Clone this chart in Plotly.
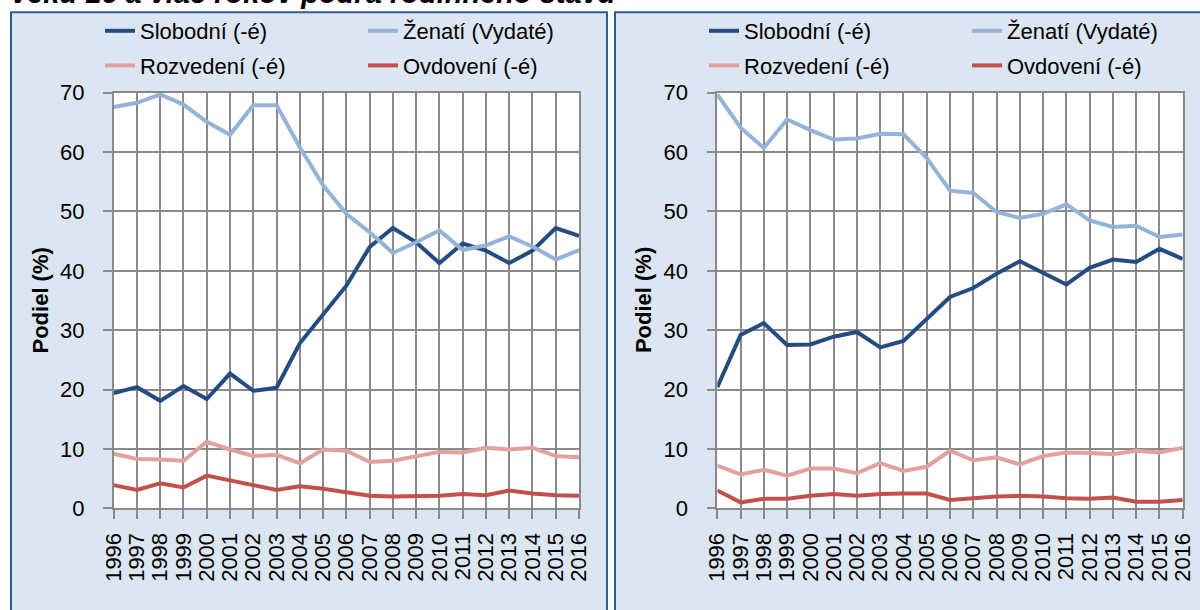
import plotly.graph_objects as go

# ---------------- data ----------------
years = list(range(1996, 2017))
year_labels = [str(y) for y in years]
y_tick_vals = [0, 10, 20, 30, 40, 50, 60, 70]

series_names = ["Slobodní (-é)", "Ženatí (Vydaté)", "Rozvedení (-é)", "Ovdovení (-é)"]
series_colors = ["#254C80", "#95B3D7", "#E3A09E", "#C4504D"]

left_slobodni = [19.4, 20.4, 18.1, 20.6, 18.4, 22.7, 19.8, 20.3, 27.8, 32.7, 37.5,
                 44.0, 47.2, 44.8, 41.3, 44.6, 43.4, 41.3, 43.4, 47.2, 45.9]
left_zenati = [67.6, 68.3, 69.7, 68.0, 65.1, 62.9, 67.9, 67.9, 60.8, 54.4, 49.6,
               46.5, 43.0, 44.8, 46.8, 43.5, 44.3, 45.8, 44.1, 41.9, 43.5]
left_rozvedeni = [9.2, 8.3, 8.2, 8.0, 11.2, 9.9, 8.8, 9.0, 7.6, 9.9, 9.7,
                  7.8, 8.0, 8.7, 9.5, 9.4, 10.2, 9.9, 10.2, 8.8, 8.6]
left_ovdoveni = [3.9, 3.1, 4.2, 3.5, 5.5, 4.7, 3.9, 3.1, 3.7, 3.3, 2.7,
                 2.1, 2.0, 2.0, 2.1, 2.4, 2.2, 3.0, 2.5, 2.2, 2.1]

right_slobodni = [20.4, 29.2, 31.2, 27.5, 27.6, 28.9, 29.7, 27.1, 28.2, 31.8, 35.6,
                  37.1, 39.5, 41.6, 39.6, 37.7, 40.5, 41.9, 41.5, 43.7, 42.0]
right_zenati = [69.7, 64.1, 60.7, 65.5, 63.7, 62.1, 62.3, 63.1, 63.0, 59.0, 53.5,
                53.1, 49.9, 48.9, 49.6, 51.2, 48.5, 47.4, 47.6, 45.7, 46.1]
right_rozvedeni = [7.2, 5.7, 6.5, 5.5, 6.7, 6.7, 5.9, 7.6, 6.3, 7.0, 9.7,
                   8.1, 8.6, 7.4, 8.8, 9.4, 9.3, 9.1, 9.7, 9.4, 10.2]
right_ovdoveni = [3.0, 1.0, 1.6, 1.6, 2.1, 2.4, 2.1, 2.4, 2.5, 2.5, 1.4,
                  1.7, 2.0, 2.1, 2.0, 1.7, 1.6, 1.8, 1.1, 1.1, 1.4]

title_text = "veku 16 a viac rokov podľa rodinného stavu"
y_title = "Podiel (%)"

# ---------------- layout helpers ----------------
W, H = 1200, 610
FONT = "Liberation Sans, Arial, sans-serif"
GRID = "#8A8A8A"
PANEL = "#DCE6F2"
BORDER = "#2F5C94"


def px(x):
    return x / W


def py(y):
    return 1 - y / H


fig = go.Figure()

panels = [
    dict(key="L", xa="x", ya="y", legends=("legend", "legend2"),
         data=[left_slobodni, left_zenati, left_rozvedeni, left_ovdoveni]),
    dict(key="R", xa="x2", ya="y2", legends=("legend3", "legend4"),
         data=[right_slobodni, right_zenati, right_rozvedeni, right_ovdoveni]),
]

for p in panels:
    for i, (name, color, vals) in enumerate(zip(series_names, series_colors, p["data"])):
        fig.add_trace(go.Scatter(
            x=years, y=vals, name=name, mode="lines",
            line=dict(color=color, width=4),
            xaxis=p["xa"], yaxis=p["ya"],
            legend=p["legends"][0] if i in (0, 2) else p["legends"][1],
            legendgroup=p["key"] + str(i),
            hoverinfo="skip",
        ))

xdomains = [[px(113.7), px(579.0)], [px(717.3), px(1182.7)]]
ydomain = [py(508.3), py(92.7)]

axis_common = dict(
    showgrid=True, gridcolor=GRID, gridwidth=1.6,
    showline=True, linecolor=GRID, linewidth=1.6, mirror=True,
    ticks="outside", ticklen=9, tickwidth=1.6, tickcolor=GRID,
    zeroline=False, automargin=False,
)

layout = dict(
    width=W, height=H,
    margin=dict(l=0, r=0, t=0, b=0, pad=0, autoexpand=False),
    paper_bgcolor="white", plot_bgcolor="white",
    font=dict(family=FONT, color="black"),
    showlegend=True,
)

for k, (xd, sfx) in enumerate(zip(xdomains, ["", "2"])):
    layout["xaxis" + sfx] = dict(
        axis_common, domain=xd, range=[1996, 2016],
        tickmode="array", tickvals=years, ticktext=year_labels,
        tickangle=-90, tickfont=dict(size=22, family=FONT, color="black"),
        anchor="y" + sfx, ticklabelstandoff=5,
    )
    layout["yaxis" + sfx] = dict(
        axis_common, domain=ydomain, range=[0, 70],
        tickmode="array", tickvals=y_tick_vals,
        tickfont=dict(size=22, family=FONT, color="black"),
        anchor="x" + sfx, ticklabelstandoff=14,
    )

legend_common = dict(
    orientation="v", bgcolor="rgba(0,0,0,0)", borderwidth=0,
    font=dict(size=22, family=FONT, color="black"),
    xanchor="left", yanchor="top", tracegroupgap=3,
)
layout["legend"] = dict(legend_common, x=px(100), y=py(10))
layout["legend2"] = dict(legend_common, x=px(363), y=py(10))
layout["legend3"] = dict(legend_common, x=px(704), y=py(10))
layout["legend4"] = dict(legend_common, x=px(967), y=py(10))

fig.update_layout(**layout)

# panel backgrounds + white plot areas
shapes = [
    dict(type="rect", xref="paper", yref="paper", x0=px(11), x1=px(607),
         y0=-0.2, y1=py(12.3), fillcolor=PANEL, line=dict(color=BORDER, width=2),
         layer="below"),
    dict(type="rect", xref="paper", yref="paper", x0=px(615), x1=1.2,
         y0=-0.2, y1=py(12.3), fillcolor=PANEL, line=dict(color=BORDER, width=2),
         layer="below"),
]
for sfx in ["", "2"]:
    shapes.append(dict(type="rect", xref="x" + sfx + " domain", yref="y" + sfx + " domain",
                       x0=0, x1=1, y0=0, y1=1, fillcolor="white",
                       line=dict(width=0), layer="below"))
fig.update_layout(shapes=shapes)

annotations = [
    dict(text="<b><i>" + title_text + "</i></b>", xref="paper", yref="paper",
         x=px(9), y=py(-7), xanchor="left", yanchor="middle", showarrow=False,
         font=dict(size=29, family=FONT, color="black")),
    dict(text="<b>" + y_title + "</b>", xref="paper", yref="paper",
         x=px(40), y=py(300.5), xanchor="center", yanchor="middle", textangle=-90,
         showarrow=False, font=dict(size=22, family=FONT, color="black")),
    dict(text="<b>" + y_title + "</b>", xref="paper", yref="paper",
         x=px(643.6), y=py(300.5), xanchor="center", yanchor="middle", textangle=-90,
         showarrow=False, font=dict(size=22, family=FONT, color="black")),
]
fig.update_layout(annotations=annotations)

fig.write_html("out.html", config={"displayModeBar": False},
               post_script="document.body.style.margin='0';")
